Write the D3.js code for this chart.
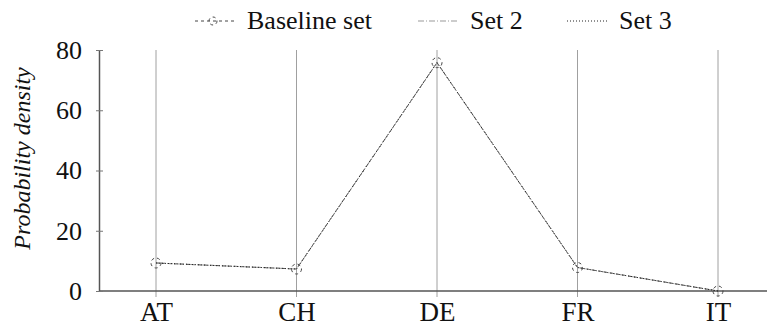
<!DOCTYPE html>
<html>
<head>
<meta charset="utf-8">
<script src="https://cdn.jsdelivr.net/npm/d3@7"></script>
<style>
  body { margin: 0; background: #fff; }
  text { font-family: "Liberation Serif" !important; fill: #111; }
  .ylab { font-style: italic; }
</style>
</head>
<body>
<div id="chart"></div>
<script>
// data
var categories = ["AT", "CH", "DE", "FR", "IT"];
var baseline = [9.3, 7.3, 75.8, 7.8, 0];
var set2 = [9.3, 7.3, 75.8, 7.8, 0];
var set3 = [9.3, 7.3, 75.8, 7.8, 0];
var yTicks = [0, 20, 40, 60, 80];
var seriesNames = ["Baseline set", "Set 2", "Set 3"];

var W = 767, H = 328;
var svg = d3.select("#chart").append("svg")
    .attr("width", W)
    .attr("height", H);

var plotLeft = 99, plotTop = 50, plotBottom = 291;

var x = d3.scalePoint()
    .domain(categories)
    .range([156, 718]);

var y = d3.scaleLinear()
    .domain([0, 80])
    .range([plotBottom, plotTop]);

// vertical grid
svg.append("g")
    .selectAll("line")
    .data(categories)
    .enter().append("line")
    .attr("x1", function (d) { return x(d); })
    .attr("x2", function (d) { return x(d); })
    .attr("y1", y(80))
    .attr("y2", y(0) + 6)
    .attr("stroke", "#a0a0a0")
    .attr("stroke-width", 1);

// x axis
var gx = svg.append("g")
    .attr("transform", "translate(0," + y(0) + ")")
    .call(d3.axisBottom(x).tickSize(0).tickPadding(11))
    .attr("font-family", null)
    .attr("font-size", 27);
gx.select(".domain").remove();
gx.append("line")
    .attr("x1", plotLeft).attr("x2", W)
    .attr("stroke", "#555").attr("stroke-width", 1.5);

// y axis
var gy = svg.append("g")
    .attr("transform", "translate(" + plotLeft + ",0)")
    .call(d3.axisLeft(y).tickValues(yTicks).tickSize(0).tickPadding(17))
    .attr("font-family", null)
    .attr("font-size", 26);
gy.select(".domain")
    .attr("stroke", "#555").attr("stroke-width", 1.5);
gy.selectAll(".tick").append("line")
    .attr("x1", -3).attr("x2", 4)
    .attr("stroke", "#777").attr("stroke-width", 1);

svg.append("text")
    .attr("class", "ylab")
    .attr("transform", "translate(30," + ((plotTop + plotBottom) / 2 - 12) + ") rotate(-90)")
    .attr("text-anchor", "middle")
    .attr("font-size", 24)
    .text("Probability density");

var line = d3.line()
    .x(function (d, i) { return x(categories[i]); })
    .y(function (d) { return y(d); });

var styles = [
    {data: baseline, stroke: "#444", dash: "3,3", width: 1},
    {data: set2, stroke: "#999", dash: "6,2,1,2", width: 1},
    {data: set3, stroke: "#222", dash: "1,2", width: 1}
];

styles.forEach(function (s) {
    svg.append("path")
        .datum(s.data)
        .attr("fill", "none")
        .attr("stroke", s.stroke)
        .attr("stroke-width", s.width)
        .attr("stroke-dasharray", s.dash)
        .attr("d", line);
});

// baseline markers
svg.append("g")
    .selectAll("circle")
    .data(baseline)
    .enter().append("circle")
    .attr("cx", function (d, i) { return x(categories[i]); })
    .attr("cy", function (d) { return y(d); })
    .attr("r", 5)
    .attr("fill", "none")
    .attr("stroke", "#444")
    .attr("stroke-width", 1)
    .attr("stroke-dasharray", "3,3");

// legend
var legendX = [195, 418, 567];
seriesNames.forEach(function (name, i) {
    var s = styles[i];
    var lx = legendX[i];
    svg.append("line")
        .attr("x1", lx).attr("x2", lx + 40)
        .attr("y1", 21).attr("y2", 21)
        .attr("stroke", s.stroke)
        .attr("stroke-width", 1)
        .attr("stroke-dasharray", s.dash);
    if (i === 0) {
        svg.append("circle")
            .attr("cx", lx + 18).attr("cy", 21).attr("r", 4)
            .attr("fill", "none")
            .attr("stroke", s.stroke)
            .attr("stroke-dasharray", "3,3");
    }
    svg.append("text")
        .attr("x", lx + 52)
        .attr("y", 29)
        .attr("font-size", 26)
        .text(name);
});
</script>
</body>
</html>
